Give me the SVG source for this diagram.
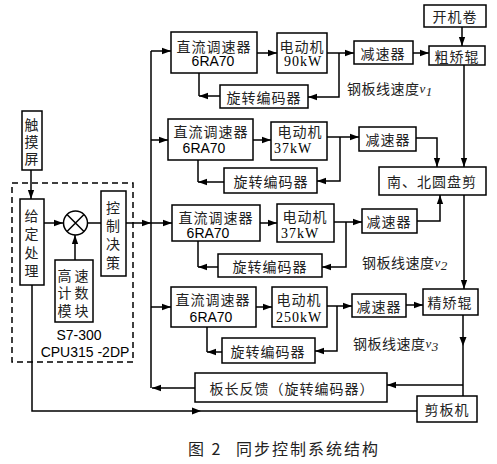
<svg xmlns="http://www.w3.org/2000/svg" width="497" height="464" viewBox="0 0 497 464">
<style>
.b{fill:#fff;stroke:#000;stroke-width:1.5}
.c{fill:none;stroke:#000;stroke-width:1.5}
.t{font-family:"Noto Sans CJK SC","Noto Sans",sans-serif;font-size:14px;fill:#222;text-anchor:middle;dominant-baseline:central;letter-spacing:1px}
.l{font-family:"Noto Sans CJK SC","Noto Sans",sans-serif;font-size:14px;fill:#222;dominant-baseline:central;letter-spacing:0.5px}
.s{font-family:"Liberation Sans",Arial,sans-serif;font-size:14px;fill:#000;text-anchor:middle;dominant-baseline:central}
.n{font-family:"Liberation Serif","Times New Roman",serif;font-size:14px;fill:#000;text-anchor:middle;dominant-baseline:central;letter-spacing:1px}
.v{font-family:"Liberation Serif",serif;font-style:italic;font-size:13px}
</style>
<defs>
<marker id="a" viewBox="0 0 10 10" refX="10" refY="5" markerWidth="9" markerHeight="9" markerUnits="userSpaceOnUse" orient="auto"><path d="M0,1.5 L10,5 L0,8.5z" fill="#000"/></marker>
</defs>
<rect x="0" y="0" width="497" height="464" fill="#fff"/>

<g id="connectors">
<path class="c" d="M31,170 V199" marker-end="url(#a)"/>
<path class="c" d="M44,223 H63" marker-end="url(#a)"/>
<path class="c" d="M75,260 V235" marker-end="url(#a)"/>
<path class="c" d="M88,223 H101"/>
<path class="c" d="M126,223 H151" marker-end="url(#a)"/>
<path class="c" d="M151,51 V388"/>
<path class="c" d="M151,51 H171" marker-end="url(#a)"/>
<path class="c" d="M151,140 H168" marker-end="url(#a)"/>
<path class="c" d="M151,223 H172" marker-end="url(#a)"/>
<path class="c" d="M151,307 H171" marker-end="url(#a)"/>
<path class="c" d="M195,388 H152" marker-end="url(#a)"/>
<path class="c" d="M32,285 V411 H417"/>
<polygon points="201,411 192,407.5 192,414.5" fill="#000"/>
<path class="c" d="M257,53 H277" marker-end="url(#a)"/>
<path class="c" d="M327,53 H354" marker-end="url(#a)"/>
<path class="c" d="M339,53 V97 H308" marker-end="url(#a)"/>
<path class="c" d="M199,73 V96"/>
<path class="c" d="M220,96 H199" marker-end="url(#a)"/>
<path class="c" d="M413,53 H429" marker-end="url(#a)"/>
<path class="c" d="M462,27 V46" marker-end="url(#a)"/>
<path class="c" d="M464,65 V167" marker-end="url(#a)"/>
<path class="c" d="M253,140 H271" marker-end="url(#a)"/>
<path class="c" d="M327,137 H359" marker-end="url(#a)"/>
<path class="c" d="M340,137 V181 H317" marker-end="url(#a)"/>
<path class="c" d="M198,160 V182"/>
<path class="c" d="M224,182 H198" marker-end="url(#a)"/>
<path class="c" d="M416,138 H437 V167" marker-end="url(#a)"/>
<path class="c" d="M260,223 H277" marker-end="url(#a)"/>
<path class="c" d="M334,222 H362" marker-end="url(#a)"/>
<path class="c" d="M346,222 V267 H322" marker-end="url(#a)"/>
<path class="c" d="M198,241 V267"/>
<path class="c" d="M218,267 H198" marker-end="url(#a)"/>
<path class="c" d="M417,221 H440 V195" marker-end="url(#a)"/>
<path class="c" d="M464,195 V289" marker-end="url(#a)"/>
<path class="c" d="M256,307 H272" marker-end="url(#a)"/>
<path class="c" d="M327,306 H352" marker-end="url(#a)"/>
<path class="c" d="M337,306 V351 H315" marker-end="url(#a)"/>
<path class="c" d="M207,327 V352"/>
<path class="c" d="M222,352 H207" marker-end="url(#a)"/>
<path class="c" d="M406,305 H423" marker-end="url(#a)"/>
<path class="c" d="M463,315 V396"/>
<polygon points="463,346 459.5,337 466.5,337" fill="#000"/>
<path class="c" d="M463,385 H387" marker-end="url(#a)"/>
</g>

<rect x="12" y="183" width="121" height="179" fill="none" stroke="#000" stroke-width="1.5" stroke-dasharray="6,4"/>

<g id="touch">
<rect class="b" x="22" y="111" width="20" height="59"/>
<text class="t" x="32" y="124">触</text><text class="t" x="32" y="141">摸</text><text class="t" x="32" y="158">屏</text>
</g>
<g id="given">
<rect class="b" x="20" y="199" width="24" height="86"/>
<text class="t" x="32" y="215">给</text><text class="t" x="32" y="233">定</text><text class="t" x="32" y="252">处</text><text class="t" x="32" y="270">理</text>
</g>
<g id="sum">
<circle cx="75.5" cy="223" r="12" fill="#fff" stroke="#000" stroke-width="1.5"/>
<path class="c" d="M67,214.5 L84,231.5 M84,214.5 L67,231.5"/>
</g>
<g id="counter">
<rect class="b" x="55" y="260" width="38" height="62"/>
<text class="t" x="65" y="275">高</text><text class="t" x="82" y="275">速</text>
<text class="t" x="65" y="292">计</text><text class="t" x="82" y="292">数</text>
<text class="t" x="65" y="310">模</text><text class="t" x="82" y="310">块</text>
</g>
<g id="decision">
<rect class="b" x="101" y="191" width="25" height="85"/>
<text class="t" x="113.5" y="207">控</text><text class="t" x="113.5" y="225">制</text><text class="t" x="113.5" y="243">决</text><text class="t" x="113.5" y="262">策</text>
</g>
<g id="plc">
<text class="s" x="79" y="335">S7-300</text>
<text class="s" x="85" y="352">CPU315 -2DP</text>
</g>

<g id="dc1"><rect class="b" x="171" y="32" width="86" height="41"/><text class="t" x="214" y="46">直流调速器</text><text class="s" x="213" y="61">6RA70</text></g>
<g id="m1"><rect class="b" x="277" y="33" width="50" height="40"/><text class="t" x="302" y="46">电动机</text><text class="n" x="303" y="61">90kW</text></g>
<g id="enc1"><rect class="b" x="220" y="85" width="88" height="23"/><text class="t" x="264" y="97">旋转编码器</text></g>
<g id="red1"><rect class="b" x="354" y="41" width="59" height="23"/><text class="t" x="383" y="53">减速器</text></g>
<g id="uncoil"><rect class="b" x="424" y="5" width="62" height="22"/><text class="t" x="455" y="16">开机卷</text></g>
<g id="rough"><rect class="b" x="429" y="46" width="56" height="19"/><text class="t" x="457" y="55.5">粗矫辊</text></g>
<text class="l" x="347" y="88">钢板线速度<tspan class="v">v</tspan><tspan class="v" font-size="9" dy="3">1</tspan></text>

<g id="dc2"><rect class="b" x="168" y="119" width="85" height="41"/><text class="t" x="211" y="131">直流调速器</text><text class="s" x="204" y="148">6RA70</text></g>
<g id="m2"><rect class="b" x="271" y="122" width="56" height="38"/><text class="t" x="300" y="131">电动机</text><text class="n" x="293" y="148">37kW</text></g>
<g id="enc2"><rect class="b" x="224" y="168" width="93" height="25"/><text class="t" x="271" y="181">旋转编码器</text></g>
<g id="red2"><rect class="b" x="359" y="127" width="57" height="24"/><text class="t" x="388" y="139">减速器</text></g>
<g id="shear"><rect class="b" x="379" y="167" width="107" height="28"/><text class="t" x="432" y="181">南、北圆盘剪</text></g>

<g id="dc3"><rect class="b" x="172" y="205" width="88" height="36"/><text class="t" x="216" y="217">直流调速器</text><text class="s" x="208" y="233">6RA70</text></g>
<g id="m3"><rect class="b" x="277" y="204" width="57" height="38"/><text class="t" x="305" y="216">电动机</text><text class="n" x="300" y="233">37kW</text></g>
<g id="enc3"><rect class="b" x="218" y="254" width="104" height="23"/><text class="t" x="270" y="266">旋转编码器</text></g>
<g id="red3"><rect class="b" x="362" y="209" width="55" height="24"/><text class="t" x="389" y="221">减速器</text></g>
<text class="l" x="362" y="262">钢板线速度<tspan class="v">v</tspan><tspan class="v" font-size="9" dy="3">2</tspan></text>

<g id="dc4"><rect class="b" x="171" y="287" width="85" height="40"/><text class="t" x="213" y="299">直流调速器</text><text class="s" x="211" y="317">6RA70</text></g>
<g id="m4"><rect class="b" x="272" y="287" width="55" height="40"/><text class="t" x="299" y="299">电动机</text><text class="n" x="299" y="317">250kW</text></g>
<g id="enc4"><rect class="b" x="222" y="338" width="93" height="25"/><text class="t" x="268" y="351">旋转编码器</text></g>
<g id="red4"><rect class="b" x="352" y="294" width="54" height="23"/><text class="t" x="379" y="305.5">减速器</text></g>
<g id="fine"><rect class="b" x="423" y="289" width="55" height="26"/><text class="t" x="450" y="302">精矫辊</text></g>
<text class="l" x="353" y="343">钢板线速度<tspan class="v">v</tspan><tspan class="v" font-size="9" dy="3">3</tspan></text>

<g id="lenfb"><rect class="b" x="195" y="373" width="192" height="29"/><text class="t" x="292" y="388">板长反馈（旋转编码器）</text></g>
<g id="cutter"><rect class="b" x="417" y="396" width="60" height="26"/><text class="t" x="447" y="409">剪板机</text></g>

<text class="l" x="188" y="448" style="font-size:16px;letter-spacing:2px">图 2<tspan x="236">同步控制系统结构</tspan></text>
</svg>
